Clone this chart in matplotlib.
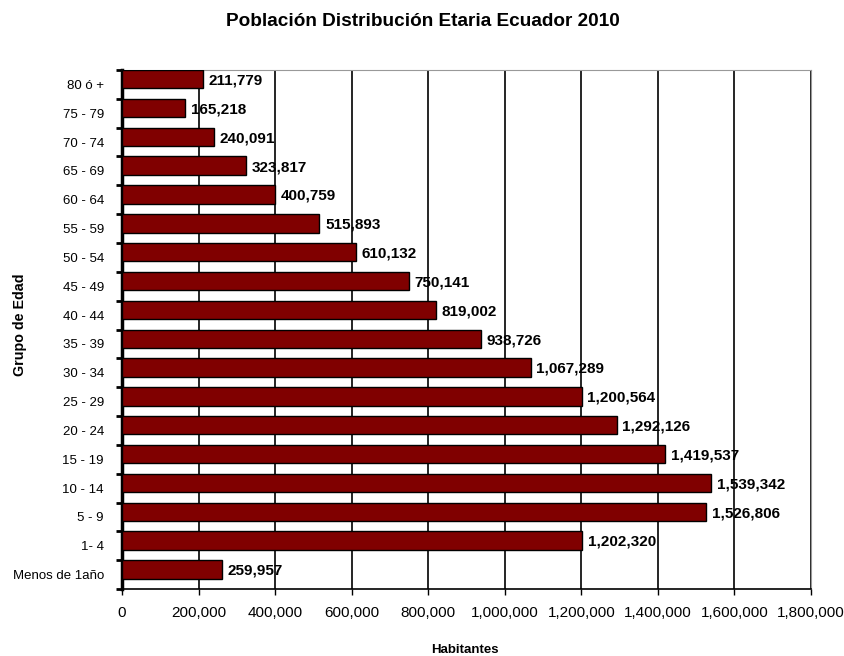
import numpy as np
import matplotlib
matplotlib.use('Agg')
import matplotlib.pyplot as plt
from matplotlib.ticker import FuncFormatter

plt.rcParams['font.family'] = ['Liberation Sans', 'DejaVu Sans']

grupos = ['Menos de 1año', '1- 4', '5 - 9', '10 - 14', '15 - 19', '20 - 24', '25 - 29',
          '30 - 34', '35 - 39', '40 - 44', '45 - 49', '50 - 54', '55 - 59', '60 - 64',
          '65 - 69', '70 - 74', '75 - 79', '80 ó +']
habitantes = [259957, 1202320, 1526806, 1539342, 1419537, 1292126, 1200564,
              1067289, 938726, 819002, 750141, 610132, 515893, 400759,
              323817, 240091, 165218, 211779]
xticks = np.arange(0, 1800001, 200000)

fig = plt.figure(figsize=(8.45, 6.56), dpi=100)
ax = fig.add_axes([0.1444, 0.1021, 0.8154, 0.7912])

y = np.arange(len(grupos))
bar_h = 0.64
# bars sit at the top of each category slot, as in the original
bar_c = y + 0.5 - bar_h / 2
ax.barh(bar_c, habitantes, height=bar_h, color='#800000', edgecolor='black',
        linewidth=1.0, zorder=3)
for yc, v in zip(bar_c, habitantes):
    ax.annotate(f'{v:,}', (v, yc), xytext=(4, -1), textcoords='offset points',
                va='center', ha='left', fontsize=11, fontweight='bold', zorder=4)

ax.set_xlim(0, 1800000)
ax.set_ylim(-0.5, len(grupos) - 0.5)
ax.set_xticks(xticks)
ax.xaxis.set_major_formatter(FuncFormatter(lambda v, p: f'{int(v):,}'))
ax.set_yticks(y)
ax.set_yticklabels(grupos, fontsize=9.5)
ax.set_yticks(np.arange(-0.5, len(grupos), 1), minor=True)
ax.tick_params(axis='y', which='major', length=0, pad=13)
ax.tick_params(axis='y', which='minor', length=4, width=2, direction='out')
ax.tick_params(axis='x', length=4, width=1, direction='out', labelsize=11, pad=8)
ax.grid(axis='x', color='black', linewidth=1.2, zorder=1)

ax.spines['left'].set_linewidth(2.5)
ax.spines['bottom'].set_linewidth(1.2)
ax.spines['top'].set_color('#999999')
ax.spines['right'].set_color('#999999')

fig.text(465 / 845, 1 - 650 / 656, 'Habitantes', fontsize=9.5, fontweight='bold',
         ha='center', va='center')
fig.text(20 / 845, 1 - 325 / 656, 'Grupo de Edad', rotation=90, fontsize=10.3,
         fontweight='bold', ha='center', va='center')
fig.text(0.5, 1 - 22 / 656, 'Población Distribución Etaria Ecuador 2010',
         fontsize=13.7, fontweight='bold', ha='center', va='center')

plt.savefig('out.png', dpi=100)
